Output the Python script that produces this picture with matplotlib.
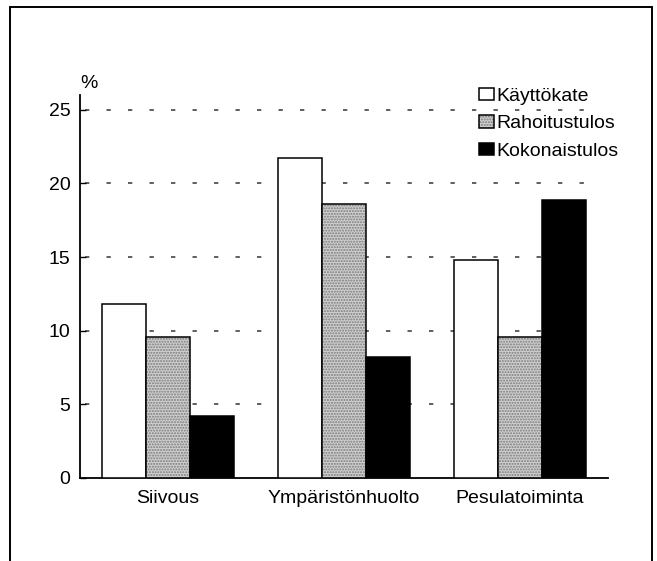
import matplotlib
matplotlib.use("Agg")
import matplotlib.pyplot as plt
from matplotlib.patches import Patch, Rectangle
import numpy as np

categories = ["Siivous", "Ympäristönhuolto", "Pesulatoiminta"]
series_names = ["Käyttökate", "Rahoitustulos", "Kokonaistulos"]
kayttokate = [11.8, 21.7, 14.8]
rahoitustulos = [9.6, 18.6, 9.6]
kokonaistulos = [4.2, 8.2, 18.9]
yticks = [0, 5, 10, 15, 20, 25]

plt.rcParams['font.family'] = ['Liberation Sans', 'DejaVu Sans']
W, H = 657, 561
fig = plt.figure(figsize=(W / 100, H / 100), dpi=100)
fig.patch.set_facecolor('white')

# outer frame
fig.patches.append(Rectangle((10 / W, -0.05), 642 / W, 1 - 7 / H + 0.05,
                             transform=fig.transFigure, fill=False,
                             edgecolor='black', linewidth=1.4))

ax_left, ax_right, ax_bottom, ax_top = 80, 608, 478, 95
ax = fig.add_axes([ax_left / W, 1 - ax_bottom / H, (ax_right - ax_left) / W,
                   (ax_bottom - ax_top) / H])

x = np.arange(len(categories))
bw = 0.25
lw = 1.1
ax.bar(x - bw, kayttokate, bw, color='white', edgecolor='black', linewidth=lw, zorder=3)
ax.bar(x, rahoitustulos, bw, color='#d0d0d0', edgecolor='#7a7a7a', hatch='......',
       linewidth=0, zorder=3)
ax.bar(x, rahoitustulos, bw, color='none', edgecolor='black', linewidth=lw, zorder=4)
ax.bar(x + bw, kokonaistulos, bw, color='black', edgecolor='black', linewidth=lw, zorder=3)

ax.set_xlim(-0.5, 2.5)
ax.set_ylim(0, 26)
ax.set_yticks(yticks)
ax.set_yticklabels([str(v) for v in yticks], fontsize=14)
ax.set_xticks(x)
ax.set_xticklabels(categories, fontsize=14)
ax.tick_params(axis='y', direction='in', length=4, width=1, pad=7)
ax.tick_params(axis='x', length=0, pad=8.5)

for s in ['top', 'right']:
    ax.spines[s].set_visible(False)
ax.spines['left'].set_linewidth(1.3)
ax.spines['bottom'].set_linewidth(1.3)

for v in yticks[1:]:
    ax.plot([-0.47, 2.45], [v, v], color='#444444', linewidth=1.2,
            linestyle=(0, (2.6, 10.3)), zorder=1)

fig.text(89 / W, 1 - 83 / H, "%", ha='center', va='center', fontsize=14)

handles = [
    Patch(facecolor='white', edgecolor='black', linewidth=lw),
    (Patch(facecolor='#d0d0d0', edgecolor='#7a7a7a', hatch='......', linewidth=0),
     Patch(facecolor='none', edgecolor='black', linewidth=lw)),
    Patch(facecolor='black', edgecolor='black', linewidth=lw),
]
leg = fig.legend(handles, series_names, loc='upper left',
                 bbox_to_anchor=(479 / W, 1 - 88 / H), frameon=False,
                 fontsize=14, handlelength=0.78, handleheight=0.6,
                 handletextpad=0.1, labelspacing=0.53, borderpad=0,
                 borderaxespad=0)

fig.savefig("out.png", dpi=100, facecolor='white')
